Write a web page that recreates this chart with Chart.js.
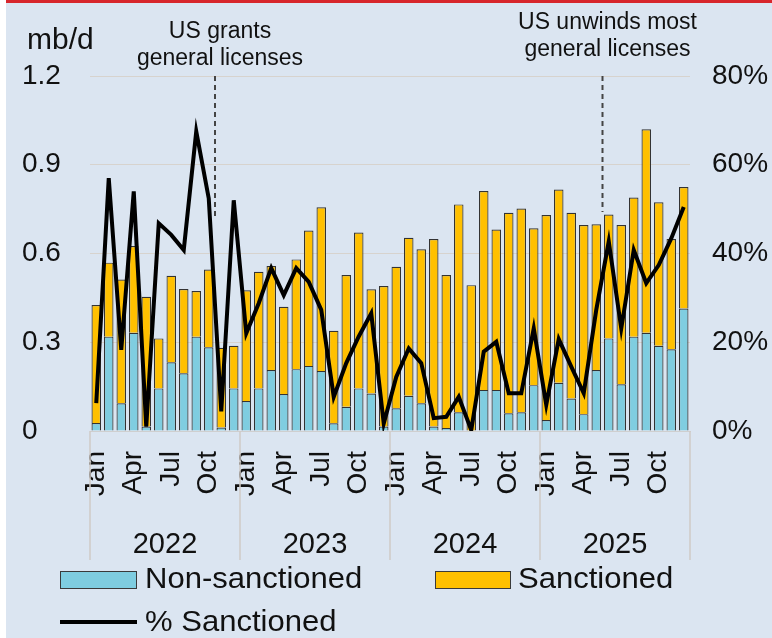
<!DOCTYPE html>
<html>
<head>
<meta charset="utf-8">
<script src="https://cdn.jsdelivr.net/npm/chart.js@4.4.1/dist/chart.umd.min.js"></script>
<style>
  html, body { margin: 0; padding: 0; }
  body { width: 772px; height: 638px; background: #dbe5f1; position: relative; overflow: hidden;
         font-family: "Liberation Sans", Arial, sans-serif; color: #111; }
  #topbar { position: absolute; left: 0; top: 0; width: 772px; height: 3px; background: #d7262c; }
  #leftbar { position: absolute; left: 0; top: 0; width: 6px; height: 638px; background: #fff; }
  #wrap { position: absolute; left: 0; top: 0; width: 772px; height: 638px; }
  .lg { position: absolute; font-size: 29px; line-height: 29px; white-space: nowrap;
        transform: scaleX(1.07); transform-origin: left center; }
  .sw { position: absolute; box-sizing: border-box; border: 1.5px solid #3a3a3a; }
</style>
</head>
<body>
<div id="topbar"></div>
<div id="leftbar"></div>
<div id="wrap"><canvas id="chart"></canvas></div>

<div class="sw" style="left:60px;top:571px;width:77px;height:18px;background:#7fcde0"></div>
<div class="lg" style="left:145px;top:564px">Non-sanctioned</div>
<div class="sw" style="left:435px;top:571px;width:76px;height:18px;background:#ffc000"></div>
<div class="lg" style="left:518px;top:564px">Sanctioned</div>
<div style="position:absolute;left:60px;top:620px;width:77px;height:4px;background:#000"></div>
<div class="lg" style="left:145px;top:607px">% Sanctioned</div>

<script>
// data (mb/d and %)
const years = ["2022", "2023", "2024", "2025"]
const months = ["Jan", "Feb", "Mar", "Apr", "May", "Jun", "Jul", "Aug", "Sep", "Oct", "Nov", "Dec"]
const shownMonths = ["Jan", "Apr", "Jul", "Oct"]

const nonSanctioned = [
    0.027, 0.319, 0.094, 0.332, 0.015, 0.144, 0.232, 0.195, 0.319, 0.283, 0.012, 0.144,
    0.101, 0.144, 0.206, 0.125, 0.209, 0.220, 0.203, 0.026, 0.082, 0.144, 0.127, 0.015,
    0.077, 0.119, 0.094, 0.015, 0.010, 0.063, 0.000, 0.139, 0.139, 0.060, 0.063, 0.155,
    0.037, 0.163, 0.110, 0.057, 0.206, 0.313, 0.158, 0.319, 0.332, 0.288, 0.276, 0.414
]
const sanctioned = [
    0.399, 0.250, 0.418, 0.293, 0.439, 0.169, 0.293, 0.285, 0.154, 0.263, 0.269, 0.144,
    0.375, 0.394, 0.352, 0.295, 0.371, 0.458, 0.553, 0.313, 0.445, 0.527, 0.352, 0.475,
    0.478, 0.534, 0.520, 0.634, 0.517, 0.703, 0.493, 0.672, 0.542, 0.678, 0.689, 0.530,
    0.693, 0.653, 0.628, 0.639, 0.493, 0.419, 0.538, 0.470, 0.688, 0.485, 0.373, 0.411
]
const pctSanctioned = [
    6.3, 57, 18.3, 54, 1, 46.8, 44.2, 40.8, 67.5, 52.4, 4.4, 52,
    22, 28.8, 36.7, 30.6, 36.7, 33.6, 27.3, 7.7, 15.3, 21.3, 26.5, 1.7,
    12.2, 18.6, 15.3, 2.9, 3.2, 7.7, 0.2, 17.9, 20.1, 8.5, 8.5, 23.1,
    5.9, 20.7, 14.5, 8.5, 27.3, 42.7, 23.1, 40.8, 33.3, 37.4, 43.4, 50.5
]

// event markers: drawn between month index `after` and the next one
const events = [
    { after: 9, lines: ["US grants", "general licenses"], to: 0.72, textTop: 38 },
    { after: 40, lines: ["US unwinds most", "general licenses"], to: 0.74, textTop: 29 }
]

const categories = []
years.forEach(y => months.forEach(m => categories.push(m + " " + y)))

const FONT = '"Liberation Sans", Arial, sans-serif'
Chart.defaults.font.family = FONT
Chart.defaults.color = "#111"

//EXTRA DRAWING: markers, year groups, unit label
const extras = {
    id: "extras",
    beforeDatasetsDraw(chart) {
        const x = chart.scales.x, y = chart.scales.y, ctx = chart.ctx
        ctx.save()
        ctx.strokeStyle = "#444"
        ctx.lineWidth = 2
        ctx.setLineDash([5, 4])
        events.forEach(ev => {
            const px = (x.getPixelForValue(ev.after) + x.getPixelForValue(ev.after + 1)) / 2
            ctx.beginPath()
            ctx.moveTo(px, y.getPixelForValue(1.2))
            ctx.lineTo(px, y.getPixelForValue(ev.to))
            ctx.stroke()
        })
        ctx.restore()
    },
    afterDraw(chart) {
        const x = chart.scales.x, ctx = chart.ctx, area = chart.chartArea
        const half = (x.getPixelForValue(1) - x.getPixelForValue(0)) / 2
        ctx.save()

        // year separators
        ctx.strokeStyle = "#cfcac6"
        ctx.lineWidth = 1.5
        for (let i = 0; i <= years.length; i++) {
            const px = i < years.length ? x.getPixelForValue(i * 12) - half
                                        : x.getPixelForValue(i * 12 - 1) + half
            ctx.beginPath()
            ctx.moveTo(px, area.bottom)
            ctx.lineTo(px, 560)
            ctx.stroke()
        }

        // year labels
        ctx.fillStyle = "#111"
        ctx.textAlign = "center"
        ctx.textBaseline = "alphabetic"
        ctx.font = "29px " + FONT
        years.forEach((yr, i) => {
            const mid = (x.getPixelForValue(i * 12) + x.getPixelForValue(i * 12 + 11)) / 2
            ctx.fillText(yr, mid, 553)
        })

        // event text
        ctx.font = "23px " + FONT
        events.forEach(ev => {
            const px = (x.getPixelForValue(ev.after) + x.getPixelForValue(ev.after + 1)) / 2 + 5
            ev.lines.forEach((t, k) => ctx.fillText(t, px, ev.textTop + k * 27))
        })

        // unit
        ctx.textAlign = "left"
        ctx.font = "30px " + FONT
        ctx.fillText("mb/d", 27, 49)
        ctx.restore()
    }
}

//CHART
new Chart(document.getElementById("chart"), {
    data: {
        labels: categories,
        datasets: [
            {
                type: "line",
                label: "% Sanctioned",
                data: pctSanctioned,
                yAxisID: "y1",
                borderColor: "#000",
                borderWidth: 4,
                pointRadius: 0,
                tension: 0,
                order: 0
            },
            {
                type: "bar",
                label: "Non-sanctioned",
                data: nonSanctioned,
                backgroundColor: "#7fcde0",
                borderColor: "#333",
                borderWidth: 1.2,
                stack: "s",
                order: 1
            },
            {
                type: "bar",
                label: "Sanctioned",
                data: sanctioned,
                backgroundColor: "#ffc000",
                borderColor: "#333",
                borderWidth: 1.2,
                stack: "s",
                order: 1
            }
        ]
    },
    options: {
        responsive: true,
        maintainAspectRatio: false,
        animation: false,
        layout: { padding: { left: 22, top: 76, right: 0, bottom: 0 } },
        plugins: { legend: { display: false }, tooltip: { enabled: false } },
        datasets: { bar: { categoryPercentage: 1, barPercentage: 0.76 } },
        scales: {
            x: {
                stacked: true,
                offset: true,
                grid: { display: false, drawTicks: false },
                border: { color: "#cfcfcf" },
                ticks: {
                    autoSkip: false,
                    maxRotation: 90,
                    minRotation: 90,
                    padding: 20,
                    font: { size: 28 },
                    callback: (v, i) => shownMonths.includes(months[i % 12]) ? months[i % 12] : ""
                },
                afterFit(s) { s.height = 207 }
            },
            y: {
                stacked: true,
                min: 0,
                max: 1.2,
                ticks: {
                    stepSize: 0.3,
                    crossAlign: "far",
                    padding: 0,
                    font: { size: 28 },
                    callback: v => v === 0 ? "0" : Number(v).toFixed(1)
                },
                grid: {
                    drawTicks: false,
                    color: c => c.tick.value === 0 ? "rgba(0,0,0,0)" : "rgba(212,198,184,0.6)"
                },
                border: { display: false },
                afterFit(s) { s.width = 68 }
            },
            y1: {
                position: "right",
                min: 0,
                max: 80,
                ticks: {
                    stepSize: 20,
                    padding: 22,
                    font: { size: 28 },
                    callback: v => v + "%"
                },
                grid: { display: false, drawTicks: false },
                border: { display: false },
                afterFit(s) { s.width = 82 }
            }
        }
    },
    plugins: [extras]
})
</script>
</body>
</html>
